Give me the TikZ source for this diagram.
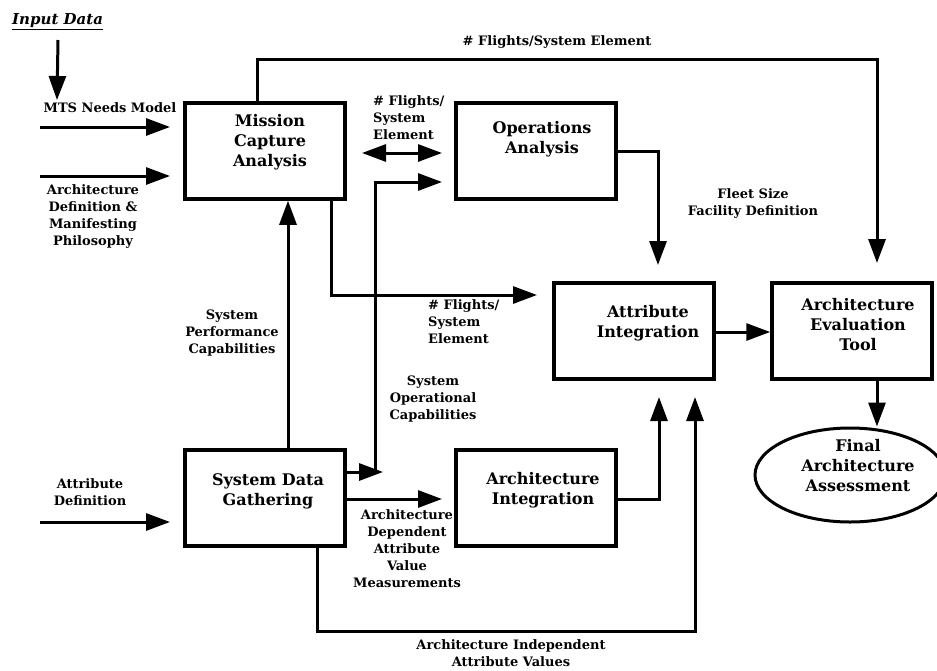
\documentclass[tikz,border=0pt]{standalone}
\usepackage{fontspec}
\setmainfont{DejaVu Serif}
\usetikzlibrary{arrows.meta,shapes.geometric}

\begin{document}
\begin{tikzpicture}[x=1pt,y=-1pt,
  flow/.style={line width=3pt,-{Triangle[length=24pt,width=17pt]}},
  twoway/.style={line width=3pt,{Triangle[length=24pt,width=17pt]}-{Triangle[length=24pt,width=17pt]}},
  blk/.style={draw,line width=3.5pt,minimum width=160pt,minimum height=96pt,inner sep=0pt},
  blktext/.style={font=\bfseries\fontsize{16}{20}\selectfont,align=center,inner sep=0pt},
  lbl/.style={font=\bfseries\fontsize{13}{17}\selectfont,align=center,inner sep=0pt},
  lbll/.style={lbl,align=left}
]
\useasboundingbox (0,0) rectangle (937,670);

% process blocks
\node[blk] (mca) at (265,151) {};
\node[blk] (ops) at (536,151) {};
\node[blk] (att) at (634,331) {};
\node[blk] (evl) at (852,331) {};
\node[blk] (sdg) at (265,498) {};
\node[blk] (arc) at (536,498) {};
\node[draw,ellipse,line width=3pt,minimum width=190pt,minimum height=94pt,inner sep=0pt] (fin) at (850,475) {};

\node[blktext] (tmca) at (270,142) {Mission\\Capture\\Analysis};
\node[blktext] (tops) at (542,139) {Operations\\Analysis};
\node[blktext] (tatt) at (648,323) {Attribute\\Integration};
\node[blktext] (tevl) at (858,325) {Architecture\\Evaluation\\Tool};
\node[blktext] (tsdg) at (268,491) {System Data\\Gathering};
\node[blktext] (tarc) at (543,490) {Architecture\\Integration};
\node[blktext] (tfin) at (858,466) {Final\\Architecture\\Assessment};

% free ends and bends
\coordinate (inA) at (58,40);   \coordinate (inB) at (57,100);
\coordinate (mtsA) at (40,127); \coordinate (mtsB) at (170,127);
\coordinate (adA) at (40,176);  \coordinate (adB) at (170,176);
\coordinate (atA) at (40,522);  \coordinate (atB) at (170,522);
\coordinate (topL) at (257,59); \coordinate (topR) at (877,59);
\coordinate (topE) at (877,263);
\coordinate (dblA) at (362,153); \coordinate (dblB) at (442,153);
\coordinate (soA) at (383,472);  \coordinate (soJ) at (375,472);
\coordinate (soK) at (375,182);  \coordinate (soE) at (442,182);
\coordinate (mfK) at (331,295);  \coordinate (mfE) at (537,295);
\coordinate (opK) at (658,151);  \coordinate (opE) at (658,265);
\coordinate (sdE) at (442,499);
\coordinate (aiK) at (659,499);  \coordinate (aiE) at (659,397);
\coordinate (inK1) at (317,631); \coordinate (inK2) at (695,631);
\coordinate (inE) at (695,397);

% input arrows
\draw[flow] (inA) -- (inB);
\draw[flow] (mtsA) -- (mtsB);
\draw[flow] (adA) -- (adB);
\draw[flow] (atA) -- (atB);

% connectors between blocks
\draw[flow] (mca.north -| topL) -- (topL) -- (topR) -- (topE);
\draw[twoway] (dblA) -- (dblB);
\draw[flow] (sdg.east |- soA) -- (soA);
\draw[flow] (soJ) -- (soK) -- (soE);
\draw[flow] (mca.south -| mfK) -- (mfK) -- (mfE);
\draw[flow] (sdg.north -| 288,0) -- (mca.south -| 288,0);
\draw[flow] (ops.east |- opK) -- (opK) -- (opE);
\draw[flow] (att.east) ++(0,1) -- (evl.west |- 0,332);
\draw[flow] (evl.south -| topE) -- (fin.north -| topE);
\draw[flow] (sdg.east |- sdE) -- (sdE);
\draw[flow] (arc.east |- aiK) -- (aiK) -- (aiE);
\draw[flow] (sdg.south -| inK1) -- (inK1) -- (inK2) -- (inE);

% labels
\node[anchor=west,inner sep=0pt,font=\bfseries\itshape\fontsize{15}{18}\selectfont] (ttl) at (12,22) {\underline{Input Data}};
\node[lbl] (lmts) at (110,108) {MTS Needs Model};
\node[lbl] (lad) at (93,216) {Architecture\\Definition \&\\Manifesting\\Philosophy};
\node[lbl] (ltop) at (557,42) {\# Flights/System Element};
\node[lbll,anchor=west] (ldbl) at (373,118) {\# Flights/\\System\\Element};
\node[lbl] (lperf) at (232,333) {System\\Performance\\Capabilities};
\node[lbll,anchor=west] (lmf) at (428,322) {\# Flights/\\System\\Element};
\node[lbl] (lso) at (433,399) {System\\Operational\\Capabilities};
\node[lbl] (lfleet) at (753,203) {Fleet Size\\Facility Definition};
\node[lbl] (lat) at (90,492) {Attribute\\Definition};
\node[lbl] (ldep) at (407,549) {Architecture\\Dependent\\Attribute\\Value\\Measurements};
\node[lbl] (lind) at (511,653) {Architecture Independent\\Attribute Values};
\end{tikzpicture}
\end{document}
